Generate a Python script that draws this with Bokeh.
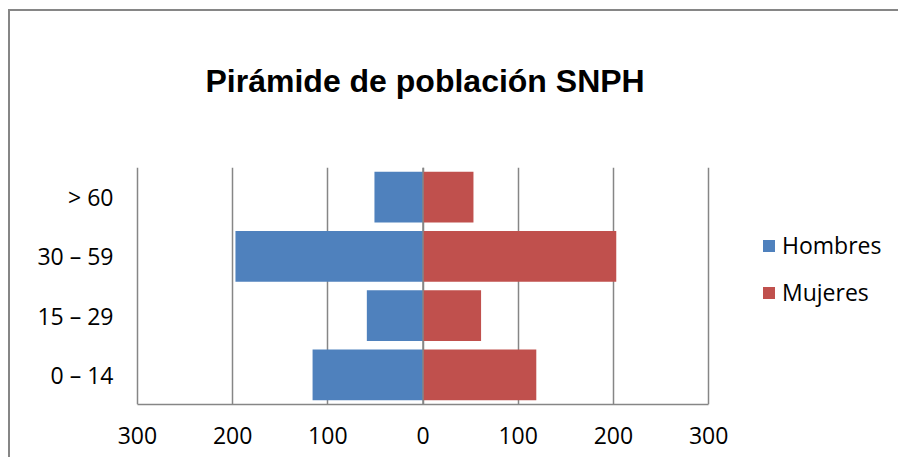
from bokeh.plotting import figure
from bokeh.models import (ColumnDataSource, FactorRange, Range1d, FixedTicker,
                          Legend, LegendItem, Span, Title)
from bokeh.embed import file_html
from bokeh.resources import INLINE

# ---- data ----
categories = ["0 – 14", "15 – 29", "30 – 59", "> 60"]
hombres = [116, 59, 197, 51]
mujeres = [119, 61, 203, 53]
x_ticks = [-300, -200, -100, 0, 100, 200, 300]
x_tick_labels = ["300", "200", "100", "0", "100", "200", "300"]
title_text = "Pirámide de población SNPH"
series_names = ["Hombres", "Mujeres"]

BLUE = "#4F81BD"
RED = "#C0504D"
GRID = "#868686"

src = ColumnDataSource(dict(
    cat=categories,
    h_left=[-v for v in hombres],
    m_right=mujeres,
    zero=[0] * len(categories),
))

# layout: the plotting frame extends to the right so the legend can sit in it
W, H = 890, 448
MB_LEFT, MB_RIGHT = 125, 1
PAD = 2                      # data padding so the +/-300 grid lines stay visible
core_px = 572                # pixel width of -302..302
frame_w = W - 4 - MB_LEFT - MB_RIGHT
x_end = -300 - PAD + frame_w * (600 + 2 * PAD) / core_px

p = figure(width=W, height=H, y_range=FactorRange(factors=categories),
           x_range=Range1d(-300 - PAD, x_end), output_backend="svg",
           toolbar_location=None,
           min_border_left=MB_LEFT, min_border_right=MB_RIGHT,
           min_border_top=156, min_border_bottom=55)
p.margin = (9, 0, 0, 8)
p.styles = {"border-top": f"2px solid {GRID}", "border-left": f"2px solid {GRID}"}
p.background_fill_color = "white"
p.border_fill_color = "white"
p.outline_line_color = None

# spacer panel between frame and title, then the title itself
spacer = Title(text=" ", text_font_size="10px", standoff=56)
p.add_layout(spacer, "above")
main_title = Title(text=title_text, text_font="Liberation Sans",
                   text_font_size="32px", text_font_style="bold",
                   text_color="black", align="left", offset=70, standoff=0,
                   vertical_align="bottom")
p.add_layout(main_title, "above")

rh = p.hbar(y="cat", left="h_left", right="zero", height=0.86, source=src,
            fill_color=BLUE, line_color=None)
rm = p.hbar(y="cat", left="zero", right="m_right", height=0.86, source=src,
            fill_color=RED, line_color=None)

p.add_layout(Span(location=0, dimension="height", line_color=GRID,
                  line_width=1.5, level="overlay"))

# axes
p.xaxis.ticker = FixedTicker(ticks=x_ticks)
p.xaxis.bounds = (x_ticks[0], x_ticks[-1])
p.xaxis.major_label_overrides = {t: l for t, l in zip(x_ticks, x_tick_labels)}
p.xaxis.axis_line_color = GRID
p.xaxis.axis_line_width = 1.5
p.xaxis.major_tick_line_color = None
p.xaxis.minor_tick_line_color = None
p.xaxis.major_label_text_font = "Open Sans"
p.xaxis.major_label_text_font_size = "23px"
p.xaxis.major_label_text_color = "black"
p.xaxis.major_label_standoff = 16

p.yaxis.axis_line_color = None
p.yaxis.major_tick_line_color = None
p.yaxis.minor_tick_line_color = None
p.yaxis.major_label_text_font = "Open Sans"
p.yaxis.major_label_text_font_size = "23px"
p.yaxis.major_label_text_color = "black"
p.yaxis.major_label_standoff = 16

p.xgrid.ticker = FixedTicker(ticks=x_ticks)
p.xgrid.grid_line_color = GRID
p.xgrid.grid_line_width = 1.5
p.ygrid.grid_line_color = None

legend = Legend(items=[LegendItem(label=series_names[0], renderers=[rh]),
                       LegendItem(label=series_names[1], renderers=[rm])],
                location=(626, 96), orientation="vertical")
legend.label_text_font = "Open Sans"
legend.label_text_font_size = "23px"
legend.label_text_color = "black"
legend.glyph_width = 15
legend.glyph_height = 15
legend.label_standoff = 6
legend.label_height = 24
legend.spacing = 15
legend.padding = 0
legend.margin = 0
legend.border_line_color = None
legend.background_fill_alpha = 0
p.add_layout(legend, "center")

open("out.html", "w").write(file_html(p, INLINE))
